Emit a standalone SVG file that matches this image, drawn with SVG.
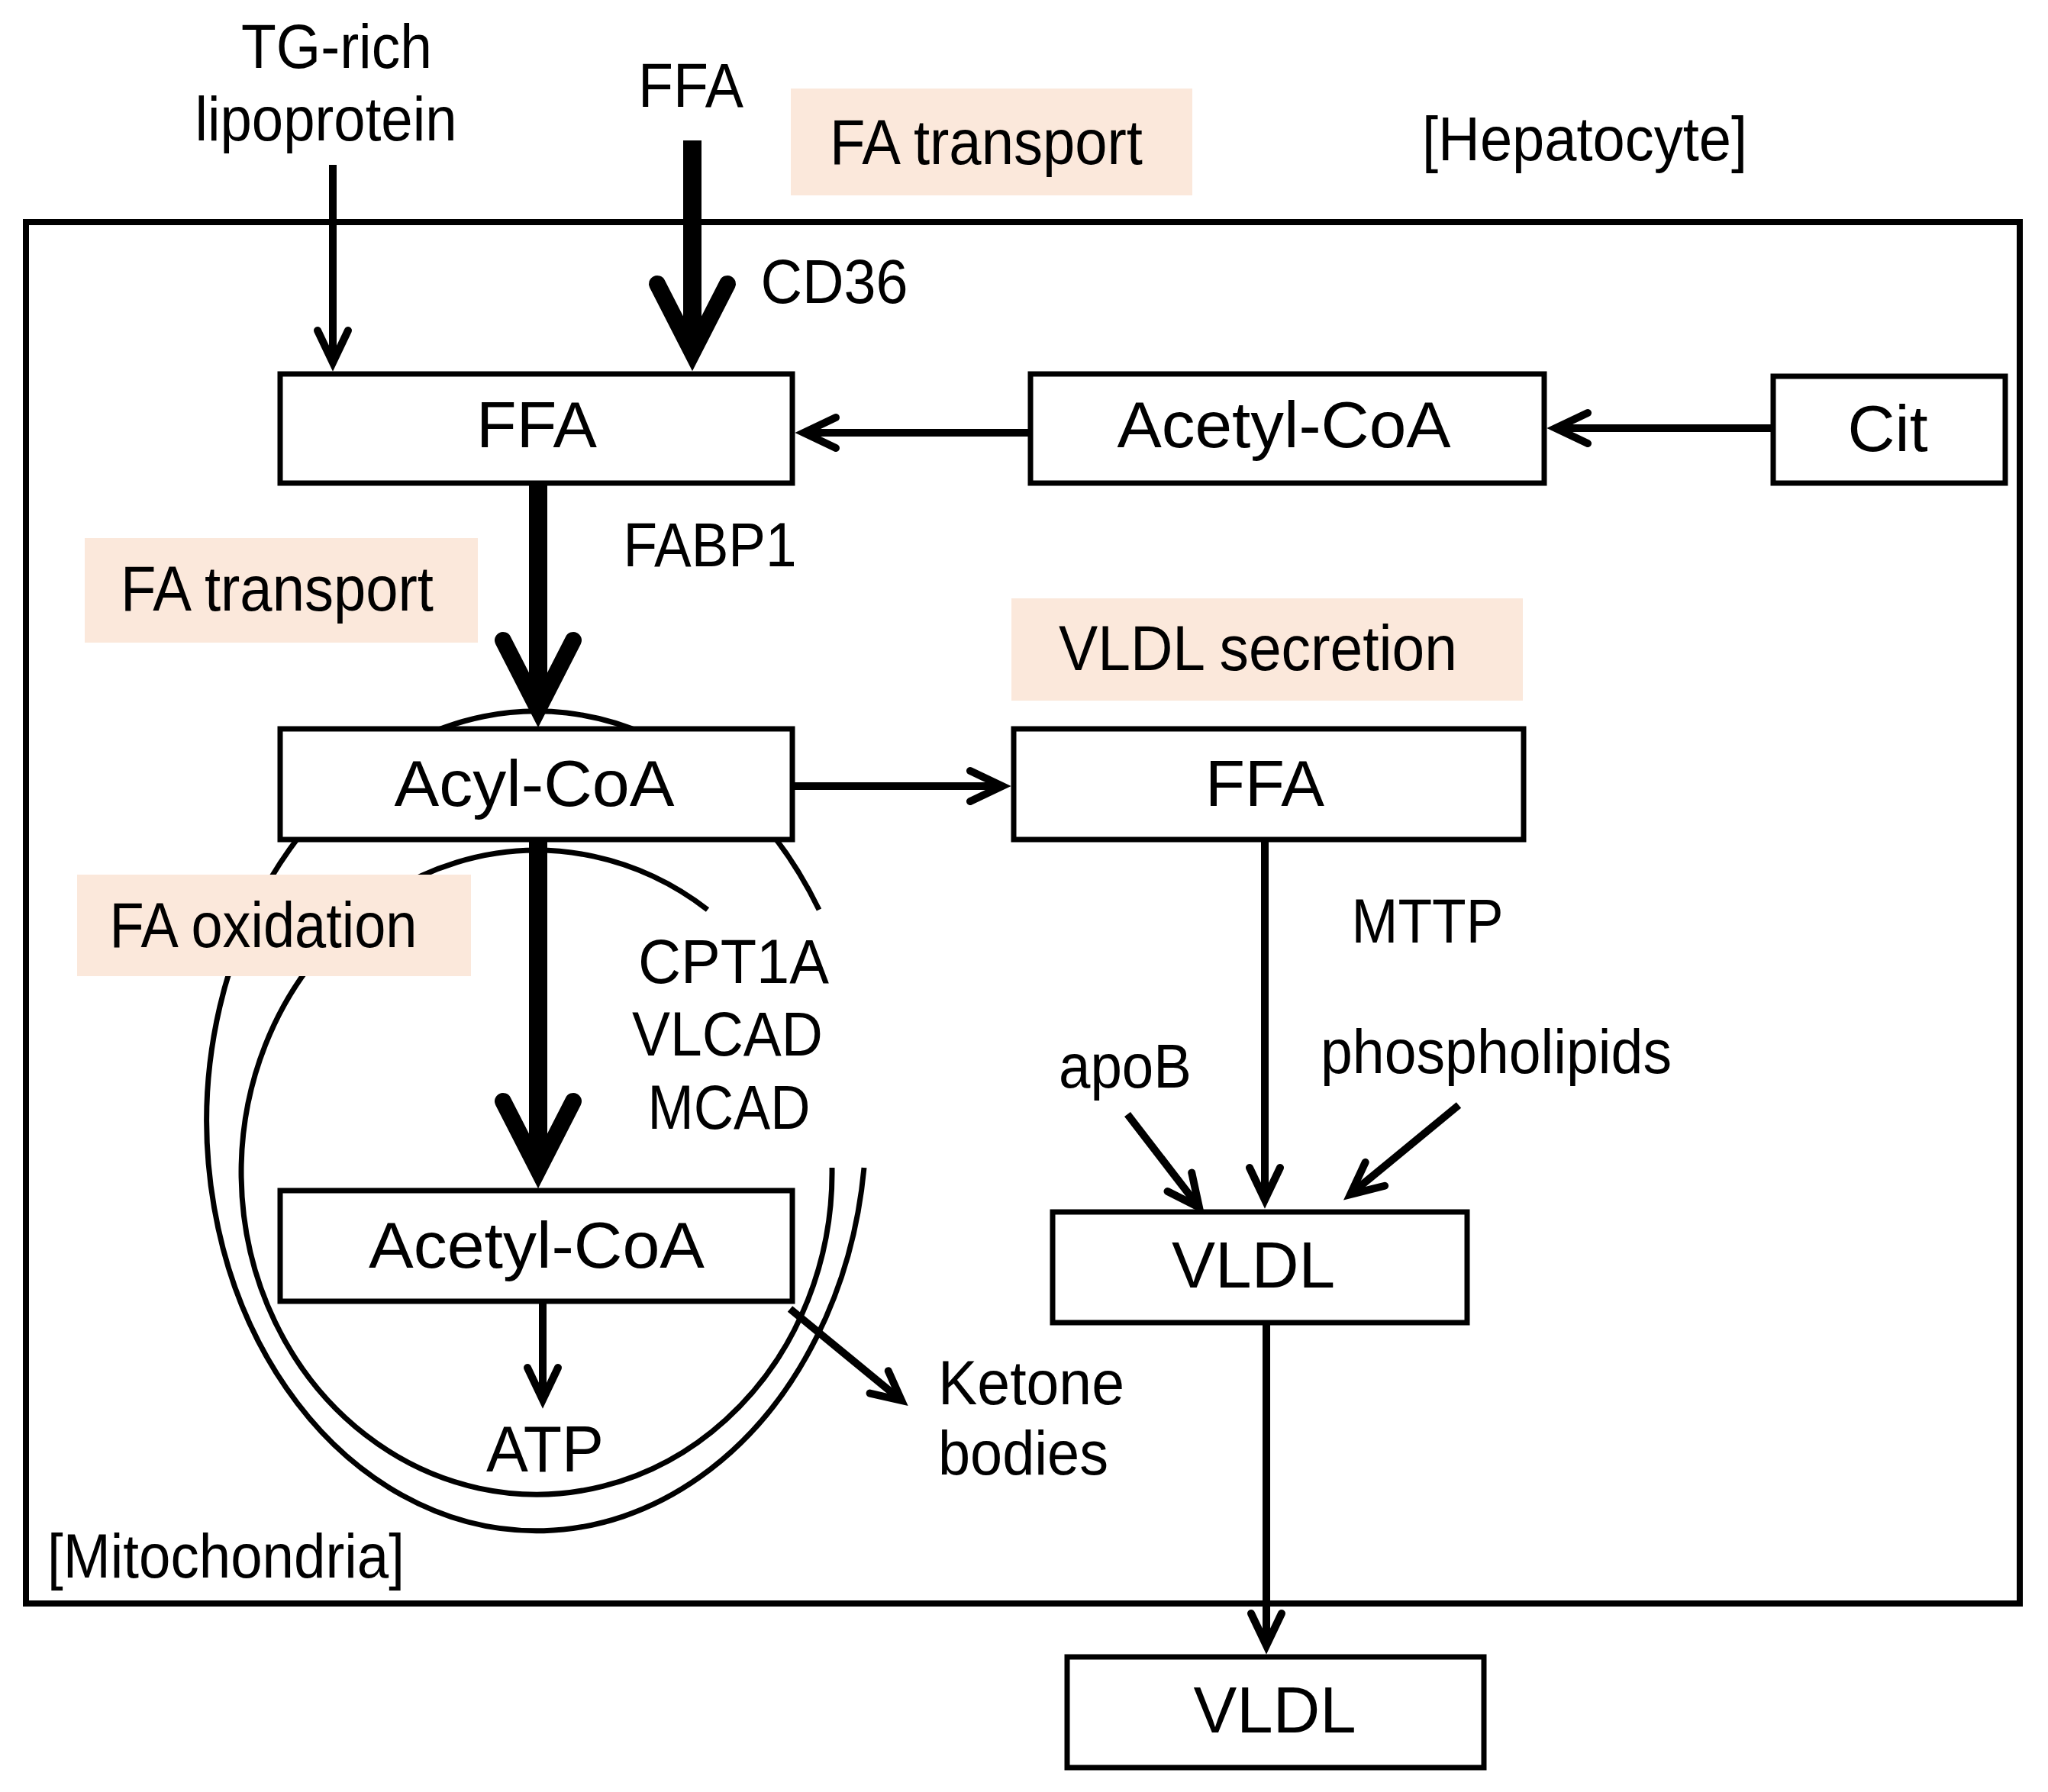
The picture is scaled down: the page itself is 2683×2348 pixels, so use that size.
<svg xmlns="http://www.w3.org/2000/svg" width="2683" height="2348" viewBox="0 0 2683 2348">
<style>
text{font-family:"Liberation Sans",Arial,sans-serif;fill:#000}
.lb{font-size:82px}
.bx{font-size:85px}
.pk{font-size:84px}
.box{fill:#fff;stroke:#000;stroke-width:7}
.pink{fill:#FBE8DB;stroke:none}
.mem{fill:none;stroke:#000;stroke-width:7}
.c{fill:none;stroke:#000;stroke-width:10}
.ct{fill:none;stroke:#000;stroke-width:24}
</style>
<defs>
<marker id="ah" markerUnits="userSpaceOnUse" viewBox="-60 -40 80 80" markerWidth="80" markerHeight="80" refX="0" refY="0" orient="auto" overflow="visible">
<path d="M-42,-20 L0,0 L-42,20" fill="none" stroke="#000" stroke-width="10" stroke-linecap="round" stroke-miterlimit="10"/>
</marker>
<marker id="ahk" markerUnits="userSpaceOnUse" viewBox="-60 -40 80 80" markerWidth="80" markerHeight="80" refX="0" refY="0" orient="auto" overflow="visible">
<path d="M-38,-19 L0,0 L-38,19" fill="none" stroke="#000" stroke-width="10" stroke-linecap="round" stroke-miterlimit="10"/>
</marker>
<marker id="aht" markerUnits="userSpaceOnUse" viewBox="-130 -70 160 140" markerWidth="160" markerHeight="140" refX="0" refY="0" orient="auto" overflow="visible">
<path d="M-90,-46 L0,0 L-90,46" fill="none" stroke="#000" stroke-width="22" stroke-linecap="round" stroke-miterlimit="10"/>
</marker>
</defs>
<rect width="2683" height="2348" fill="#fff"/>

<g id="hepatocyte">
<rect x="34" y="291" width="2612" height="1810" fill="none" stroke="#000" stroke-width="8"/>
<text class="lb" x="2076" y="210" text-anchor="middle" textLength="426" lengthAdjust="spacingAndGlyphs">[Hepatocyte]</text>
</g>

<g id="mitochondria">
<path class="mem" d="M1132,1530 A432,537 0 1 1 1073,1192"/>
<path class="mem" d="M1090,1530 A387,422 0 1 1 927,1192"/>
<text class="lb" x="62" y="2067" textLength="468" lengthAdjust="spacingAndGlyphs">[Mitochondria]</text>
</g>

<g id="label-fa-transport-top">
<rect class="pink" x="1036" y="116" width="526" height="140"/>
<text class="pk" x="1292" y="215" text-anchor="middle" textLength="410" lengthAdjust="spacingAndGlyphs">FA transport</text>
</g>
<g id="label-fa-transport-left">
<rect class="pink" x="111" y="705" width="515" height="137"/>
<text class="pk" x="363" y="800" text-anchor="middle" textLength="410" lengthAdjust="spacingAndGlyphs">FA transport</text>
</g>
<g id="label-vldl-secretion">
<rect class="pink" x="1325" y="784" width="670" height="134"/>
<text class="pk" x="1648" y="878" text-anchor="middle" textLength="522" lengthAdjust="spacingAndGlyphs">VLDL secretion</text>
</g>
<g id="label-fa-oxidation">
<rect class="pink" x="101" y="1146" width="516" height="133"/>
<text class="pk" x="345" y="1241" text-anchor="middle" textLength="403" lengthAdjust="spacingAndGlyphs">FA oxidation</text>
</g>

<g id="tg-rich">
<text class="lb" x="441" y="89" text-anchor="middle" textLength="250" lengthAdjust="spacingAndGlyphs">TG-rich</text>
<text class="lb" x="427" y="184" text-anchor="middle" textLength="343" lengthAdjust="spacingAndGlyphs">lipoprotein</text>
</g>
<g id="ffa-in">
<text class="lb" x="905" y="140" text-anchor="middle" textLength="138" lengthAdjust="spacingAndGlyphs">FFA</text>
</g>

<g id="ffa-cyto">
<rect class="box" x="367" y="490" width="671" height="143"/>
<text class="bx" x="703" y="586" text-anchor="middle" textLength="158" lengthAdjust="spacingAndGlyphs">FFA</text>
</g>
<g id="acetylcoa-cyto">
<rect class="box" x="1350" y="490" width="673" height="143"/>
<text class="bx" x="1682" y="586" text-anchor="middle" textLength="437" lengthAdjust="spacingAndGlyphs">Acetyl-CoA</text>
</g>
<g id="cit">
<rect class="box" x="2323" y="493" width="304" height="140"/>
<text class="bx" x="2473" y="591" text-anchor="middle" textLength="105" lengthAdjust="spacingAndGlyphs">Cit</text>
</g>
<g id="acylcoa">
<rect class="box" x="367" y="955" width="671" height="145"/>
<text class="bx" x="700" y="1056" text-anchor="middle" textLength="367" lengthAdjust="spacingAndGlyphs">Acyl-CoA</text>
</g>
<g id="ffa-vldl">
<rect class="box" x="1328" y="955" width="668" height="145"/>
<text class="bx" x="1657" y="1056" text-anchor="middle" textLength="156" lengthAdjust="spacingAndGlyphs">FFA</text>
</g>
<g id="acetylcoa-mito">
<rect class="box" x="367" y="1560" width="671" height="145"/>
<text class="bx" x="703" y="1661" text-anchor="middle" textLength="440" lengthAdjust="spacingAndGlyphs">Acetyl-CoA</text>
</g>
<g id="atp">
<text class="bx" x="714" y="1928" text-anchor="middle" textLength="154" lengthAdjust="spacingAndGlyphs">ATP</text>
</g>
<g id="ketone">
<text class="lb" x="1229" y="1840" textLength="244" lengthAdjust="spacingAndGlyphs">Ketone</text>
<text class="lb" x="1229" y="1932" textLength="223" lengthAdjust="spacingAndGlyphs">bodies</text>
</g>
<g id="vldl-in">
<rect class="box" x="1379" y="1588" width="543" height="145"/>
<text class="bx" x="1642" y="1687" text-anchor="middle" textLength="214" lengthAdjust="spacingAndGlyphs">VLDL</text>
</g>
<g id="vldl-out">
<rect class="box" x="1398" y="2171" width="546" height="145"/>
<text class="bx" x="1670" y="2270" text-anchor="middle" textLength="213" lengthAdjust="spacingAndGlyphs">VLDL</text>
</g>
<g id="apob">
<text class="lb" x="1474" y="1425" text-anchor="middle" textLength="174" lengthAdjust="spacingAndGlyphs">apoB</text>
</g>
<g id="phospholipids">
<text class="lb" x="1960" y="1406" text-anchor="middle" textLength="460" lengthAdjust="spacingAndGlyphs">phospholipids</text>
</g>

<g id="connectors">
<line class="c" x1="436" y1="216" x2="436" y2="475" marker-end="url(#ah)"/>
<line class="ct" x1="907" y1="184" x2="907" y2="462" marker-end="url(#aht)"/>
<line class="c" x1="1350" y1="567" x2="1053" y2="567" marker-end="url(#ah)"/>
<line class="c" x1="2323" y1="561" x2="2038" y2="561" marker-end="url(#ah)"/>
<line class="ct" x1="705" y1="633" x2="705" y2="929" marker-end="url(#aht)"/>
<line class="c" x1="1038" y1="1030" x2="1313" y2="1030" marker-end="url(#ah)"/>
<line class="ct" x1="705" y1="1100" x2="705" y2="1533" marker-end="url(#aht)"/>
<line class="c" x1="711" y1="1705" x2="711" y2="1834" marker-end="url(#ah)"/>
<line class="c" x1="1035" y1="1715" x2="1181" y2="1835" marker-end="url(#ahk)"/>
<line class="c" x1="1657" y1="1100" x2="1657" y2="1572" marker-end="url(#ah)"/>
<line class="c" x1="1477" y1="1460" x2="1571" y2="1582" marker-end="url(#ah)"/>
<line class="c" x1="1911" y1="1448" x2="1769" y2="1565" marker-end="url(#ah)"/>
<line class="c" x1="1659" y1="1733" x2="1659" y2="2156" marker-end="url(#ah)"/>
<text class="lb" x="1093" y="397" text-anchor="middle" textLength="193" lengthAdjust="spacingAndGlyphs">CD36</text>
<text class="lb" x="930" y="742" text-anchor="middle" textLength="227" lengthAdjust="spacingAndGlyphs">FABP1</text>
<text class="lb" x="961" y="1288" text-anchor="middle" textLength="250" lengthAdjust="spacingAndGlyphs">CPT1A</text>
<text class="lb" x="953" y="1383" text-anchor="middle" textLength="250" lengthAdjust="spacingAndGlyphs">VLCAD</text>
<text class="lb" x="955" y="1479" text-anchor="middle" textLength="213" lengthAdjust="spacingAndGlyphs">MCAD</text>
<text class="lb" x="1870" y="1235" text-anchor="middle" textLength="199" lengthAdjust="spacingAndGlyphs">MTTP</text>
</g>
</svg>
